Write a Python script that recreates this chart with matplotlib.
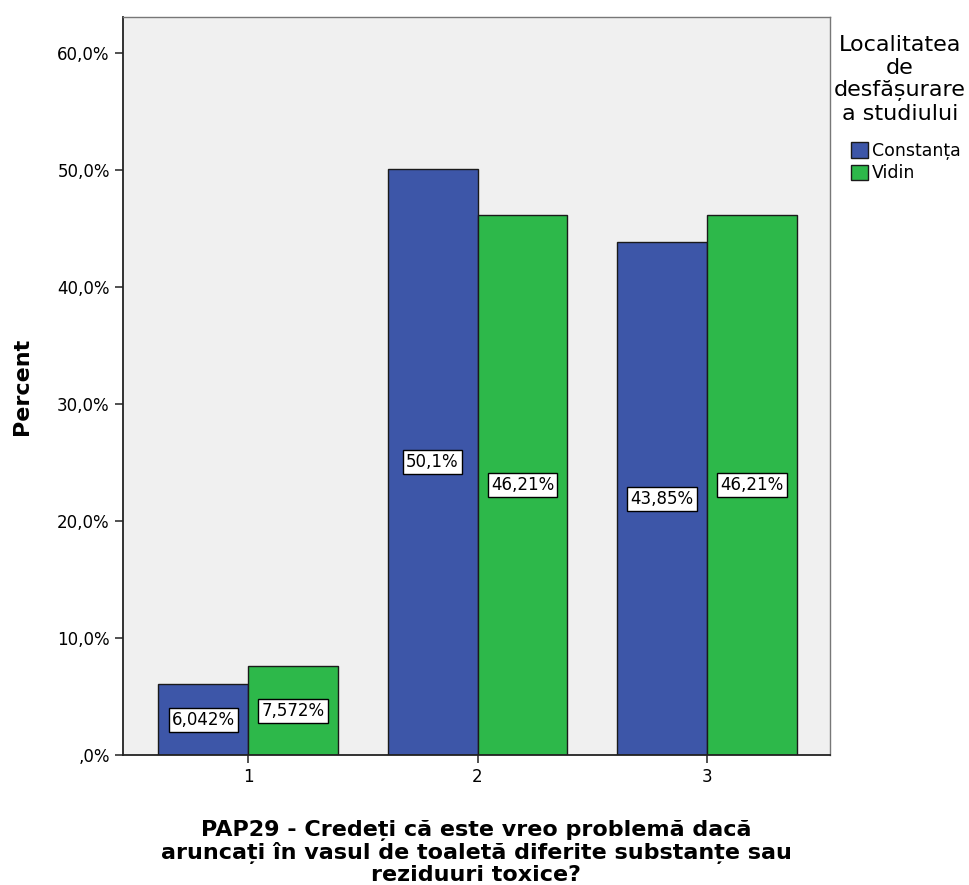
import matplotlib
matplotlib.use("Agg")
import matplotlib.pyplot as plt
import numpy as np

categories = ["1", "2", "3"]
series_names = ["Constanța", "Vidin"]
constanta = [6.042, 50.1, 43.85]
vidin = [7.572, 46.21, 46.21]
constanta_labels = ["6,042%", "50,1%", "43,85%"]
vidin_labels = ["7,572%", "46,21%", "46,21%"]
yticks = [0, 10, 20, 30, 40, 50, 60]
ytick_labels = [",0%", "10,0%", "20,0%", "30,0%", "40,0%", "50,0%", "60,0%"]
legend_title = "Localitatea\nde\ndesfășurare\na studiului"
xlabel = "PAP29 - Credeți că este vreo problemă dacă\naruncați în vasul de toaletă diferite substanțe sau\nreziduuri toxice?"
ylabel = "Percent"

colors = ["#3d56a8", "#2db84a"]

plt.rcParams['font.family'] = ['DejaVu Sans']

W, H = 970, 885
fig = plt.figure(figsize=(W / 100, H / 100), dpi=100)
ax = fig.add_axes([123 / W, 1 - 755 / H, (830 - 123) / W, (755 - 17) / H])
ax.set_facecolor("#f0f0f0")

x = np.arange(1, len(categories) + 1)
w = 0.392
vals = [constanta, vidin]
labs = [constanta_labels, vidin_labels]
for i, (v, lab) in enumerate(zip(vals, labs)):
    pos = x + (i - 0.5) * w
    ax.bar(pos, v, width=w, color=colors[i], edgecolor="#1a1a1a",
           linewidth=1.0, label=series_names[i], zorder=2)
    for p, val, t in zip(pos, v, lab):
        ax.text(p, val / 2, t, ha="center", va="center", fontsize=12,
                zorder=3,
                bbox=dict(boxstyle="square,pad=0.18", facecolor="white",
                          edgecolor="black", linewidth=1.0))

ax.set_xlim(0.455, 3.536)
ax.set_ylim(0, 63.1)
ax.set_xticks(x)
ax.set_xticklabels(categories, fontsize=12)
ax.set_yticks(yticks)
ax.set_yticklabels(ytick_labels, fontsize=12)
ax.tick_params(axis="both", length=6, width=1.2, color="#333333")
for s in ["left", "bottom"]:
    ax.spines[s].set_linewidth(1.3)
    ax.spines[s].set_color("#222222")
for s in ["top", "right"]:
    ax.spines[s].set_linewidth(1.0)
    ax.spines[s].set_color("#777777")

ax.set_ylabel(ylabel, fontsize=16, fontweight="bold", labelpad=18)
ax.set_xlabel(xlabel, fontsize=16, fontweight="bold", labelpad=24,
              linespacing=1.07)

fig.text(900 / W, 1 - 35 / H, legend_title, ha="center", va="top",
         fontsize=16, linespacing=1.17, multialignment="center")
leg = ax.legend(loc="upper left", bbox_to_anchor=(851 / W, 1 - 142 / H),
                bbox_transform=fig.transFigure, frameon=False,
                fontsize=12.5, handlelength=1.0, handleheight=1.0,
                handletextpad=0.2, borderaxespad=0.0, borderpad=0.0,
                labelspacing=0.25)

fig.savefig("out.png", dpi=100)
